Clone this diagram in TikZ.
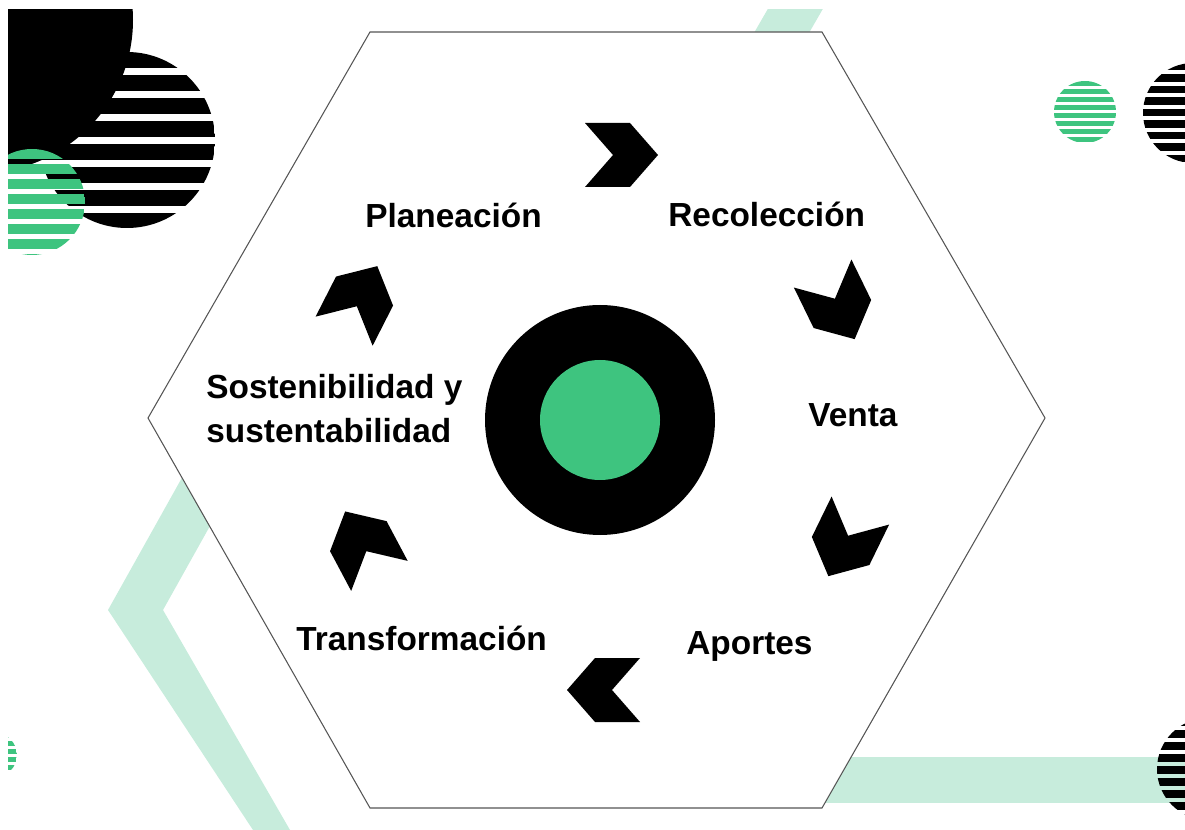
\documentclass[tikz,border=0pt]{standalone}
\usepackage{fontspec}
\setmainfont{Liberation Sans}
\usetikzlibrary{calc}
\definecolor{leafgreen}{RGB}{62,196,127}
\definecolor{mintband}{RGB}{199,236,220}
\definecolor{hexline}{RGB}{85,85,85}

% striped disc: centre x, centre y, radius, period, bar height, colour
\newcommand{\stripedisc}[6]{%
  \begin{scope}
    \clip (#1,#2) circle (#3);
    \foreach \k in {0,...,12}
      \fill[#6] (#1-#3, #2-#3+\k*#4) rectangle ++(2*#3, #5);
  \end{scope}}

\begin{document}
\begin{tikzpicture}[x=0.2mm, y=-0.2mm,
    stage/.style={font=\fontsize{19}{25.5}\selectfont\bfseries, inner sep=0pt, anchor=base west, align=left},
    chevron/.style={fill=black}]
  \useasboundingbox (0,0) rectangle (1185,830);

  \begin{scope}
    \clip (8,10) rectangle (1185,830);
    % Background bands
    \fill[mintband] (773,0) -- (828,0) -- (700,222) -- (645,222) -- cycle;
    \fill[mintband] (250,356) -- (108,610) -- (253,830) -- (290,830) -- (163,610) -- (305,356) -- cycle;
    \fill[mintband] (800,757) rectangle (1185,803);

    % Top left discs
    \fill[black] (-20,20) circle (153);
    \stripedisc{127}{140}{88}{23}{16}{black}
    \stripedisc{32}{202}{53}{15}{10}{leafgreen}

    % Right and lower discs
    \stripedisc{1085}{112}{31}{8}{5.5}{leafgreen}
    \stripedisc{1193}{113}{50}{11.5}{7.5}{black}
    \stripedisc{1208}{769}{51}{12}{8}{black}
    \stripedisc{-5}{755}{22}{8}{5}{leafgreen}
  \end{scope}

  % Hexagon
  \filldraw[fill=white, draw=hexline, line width=0.6pt]
    (370,32) -- (822,32) -- (1045,418) -- (822,808) -- (370,808) -- (148,418) -- cycle;

  % Centre
  \fill[black] (600,420) circle (115);
  \fill[leafgreen] (600,420) circle (60);

  % Chevrons
  \foreach \cx/\cy/\ang in {620/155/0, 838/305/-64, 845/542/-116, 605/690/180, 363/545/118, 360/300/63}
    \fill[chevron, shift={(\cx,\cy)}, rotate=\ang]
      (-35,-32) -- (10,-32) -- (38,0) -- (10,32) -- (-35,32) -- (-7,0) -- cycle;

  % Stages
  \node[stage] (plan) at (365,228) {Planeación};
  \node[stage] (recol) at (668,227) {Recolección};
  \node[stage] (venta) at (808,427) {Venta};
  \node[stage] (aportes) at (686,654) {Aportes};
  \node[stage] (transf) at (296,650) {Transformación};
  \node[stage] (sosten) at (206,443) {Sostenibilidad y\\sustentabilidad};
\end{tikzpicture}
\end{document}
